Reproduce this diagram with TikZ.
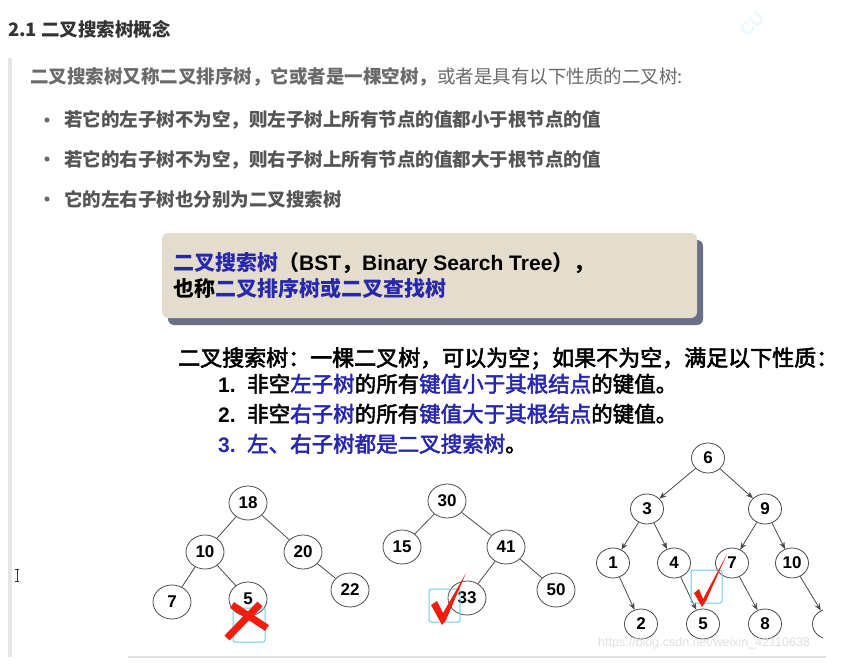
\documentclass[tikz,border=0pt]{standalone}
\usepackage{fontspec}
\setmainfont{Liberation Sans}
\newfontfamily\cjk{Noto Sans CJK SC}
\newfontfamily\cjkm{Noto Sans CJK SC}[FakeBold=2.5]
\usetikzlibrary{arrows.meta,shapes.geometric,shadows}
\definecolor{headgray}{HTML}{333333}
\definecolor{textgray}{HTML}{6A6A6A}
\definecolor{bulgray}{HTML}{555555}
\definecolor{bargray}{HTML}{E6E6E6}
\definecolor{bstblue}{RGB}{40,40,175}
\definecolor{boxbeige}{HTML}{E4DCCD}
\definecolor{boxshadow}{HTML}{6B7088}
\definecolor{nodegray}{HTML}{4A4A4A}
\definecolor{markred}{HTML}{F21D0D}
\definecolor{selcyan}{HTML}{6CCFE0}
\newcommand{\bl}[1]{\textcolor{bstblue}{#1}}
\newcommand{\lat}[1]{{\rmfamily\bfseries #1}}
\newcommand{\fs}[1]{\fontsize{#1}{#1}\selectfont}

\begin{document}
\begin{tikzpicture}[x=1pt,y=-1pt,
  txt/.style={anchor=base west, inner sep=0pt},
  bst/.style={ellipse, draw=nodegray, fill=white, line width=0.8pt,
              minimum width=38pt, minimum height=34pt, inner sep=0pt,
              font=\fs{17}\bfseries},
  bstsm/.style={bst, minimum width=33pt, minimum height=30pt},
  lnk/.style={draw=nodegray, line width=0.8pt},
  arr/.style={lnk, -{Stealth[length=7pt,width=5.5pt]}},
  introbox/.style={rectangle, fill=boxbeige, rounded corners=6pt,
              minimum width=535pt, minimum height=85pt,
              drop shadow={shadow xshift=6pt, shadow yshift=-7pt,
                           fill=boxshadow, opacity=1}},
  selbox/.style={draw=selcyan, line width=1pt, rounded corners=2pt},
  cross/.style={draw=markred, line width=7pt}
]
  \useasboundingbox[fill=white] (0,0) rectangle (859,666);

  % page text
  \fill[bargray] (8,58) rectangle (12,657);
  \node[txt, text=headgray, font=\cjk\bfseries\fs{18.5}] (title) at (8,37)
    {2.1 二叉搜索树概念};
  \node[txt, text=textgray, font=\cjk\fs{18.5}] (para) at (30,84)
    {{\bfseries 二叉搜索树又称二叉排序树，它或者是一棵空树，}或者是具有以下性质的二叉树:};
  \foreach \y/\t [count=\i] in {127/若它的左子树不为空，则左子树上所有节点的值都小于根节点的值,
                                166/若它的右子树不为空，则右子树上所有节点的值都大于根节点的值,
                                206/它的左右子树也分别为二叉搜索树}{
    \fill[textgray] (47,\y-7) circle (2.6pt);
    \node[txt, text=bulgray, font=\cjk\bfseries\fs{18.5}] (item\i) at (64,\y) {\t};
  }
  % cursor
  \draw[headgray, line width=0.6pt] (15,569) -- (19,569) (17,569) -- (17,581) (15,581) -- (19,581);
  \node[text=cyan!8, rotate=45, font=\fs{18}\bfseries, inner sep=0pt] (cu) at (752,24) {CU};

  % slide
  \node[introbox] (intro) at (429.5,275.5) {};
  \node[txt, font=\cjk\bfseries\fs{21}] (introa) at (173,270)
    {\bl{二叉搜索树}（\lat{BST}，\lat{Binary Search Tree}），};
  \node[txt, font=\cjk\bfseries\fs{21}] (introb) at (173,296)
    {也称\bl{二叉排序树或二叉查找树}};

  \node[txt, font=\cjkm\fs{22}] (defn) at (178,366)
    {二叉搜索树：一棵二叉树，可以为空；如果不为空，满足以下性质：};
  \node[txt, font=\fs{21}\bfseries] (numa) at (218,392) {1.};
  \node[txt, font=\cjkm\fs{21.5}] (propa) at (247,392)
    {非空\bl{左子树}的所有\bl{键值小于其根结点}的键值。};
  \node[txt, font=\fs{21}\bfseries] (numb) at (218,422) {2.};
  \node[txt, font=\cjkm\fs{21.5}] (propb) at (247,422)
    {非空\bl{右子树}的所有\bl{键值大于其根结点}的键值。};
  \node[txt, font=\fs{21}\bfseries, text=bstblue] (numc) at (218,452) {3.};
  \node[txt, font=\cjkm\fs{21.5}] (propc) at (247,452)
    {\bl{左、右子树都是二叉搜索树}。};

  % tree 1: not a BST
  \node[bst] (n18) at (248,503) {18};
  \node[bst] (n10) at (205,552) {10};
  \node[bst] (n20) at (303,552) {20};
  \node[bst] (n7)  at (172,602) {7};
  \node[bst] (n5)  at (248,599) {5};
  \node[bst] (n22) at (350,590) {22};
  \draw[lnk] (n18) -- (n10);
  \draw[lnk] (n18) -- (n20);
  \draw[lnk] (n10) -- (n7);
  \draw[lnk] (n10) -- (n5);
  \draw[lnk] (n20) -- (n22);
  \draw[selbox] (233,608) rectangle (265,642);
  \draw[cross] (232,605) -- (267,628) (260,604) -- (227,638);

  % tree 2: a BST
  \node[bst] (m30) at (447,501) {30};
  \node[bst] (m15) at (402,547) {15};
  \node[bst] (m41) at (506,547) {41};
  \node[bst] (m33) at (467,598) {33};
  \node[bst] (m50) at (556,590) {50};
  \draw[lnk] (m30) -- (m15);
  \draw[lnk] (m30) -- (m41);
  \draw[lnk] (m41) -- (m33);
  \draw[lnk] (m41) -- (m50);
  \draw[selbox] (429,589) rectangle (460,622);
  \fill[markred] (431,605) -- (437,601) -- (443,613) -- (466,573)
    -- (446,620) -- (442,625) -- cycle;

  % tree 3: a BST
  \node[bstsm] (k6)  at (708,458) {6};
  \node[bstsm] (k3)  at (647,509) {3};
  \node[bstsm] (k9)  at (765,509) {9};
  \node[bstsm] (k1)  at (613,563) {1};
  \node[bstsm] (k4)  at (674,563) {4};
  \node[bstsm] (k7)  at (732,563) {7};
  \node[bstsm] (k10) at (792,563) {10};
  \node[bstsm] (k2)  at (641,624) {2};
  \node[bstsm] (k5)  at (703,624) {5};
  \node[bstsm] (k8)  at (765,624) {8};
  \draw[arr] (k6) -- (k3);
  \draw[arr] (k6) -- (k9);
  \draw[arr] (k3) -- (k1);
  \draw[arr] (k3) -- (k4);
  \draw[arr] (k9) -- (k7);
  \draw[arr] (k9) -- (k10);
  \draw[arr] (k1) -- (k2);
  \draw[arr] (k4) -- (k5);
  \draw[arr] (k7) -- (k8);
  \begin{scope}
    \clip (128,230) rectangle (823,660);
    \node[bstsm] (k11) at (829,624) {};
    \draw[arr] (k10) -- (k11);
  \end{scope}
  \draw[selbox] (691,570) rectangle (722,603);
  \fill[markred] (694,593) -- (699,589) -- (703,599) -- (727,554)
    -- (706,601) -- (702,607) -- cycle;

  \node[txt, text=black!12, font=\fs{12.5}] (wm) at (598,646)
    {https://blog.csdn.net/weixin\_42110638};
  \draw[black!12, line width=1.5pt] (128,657) -- (826,657);
\end{tikzpicture}
\end{document}
